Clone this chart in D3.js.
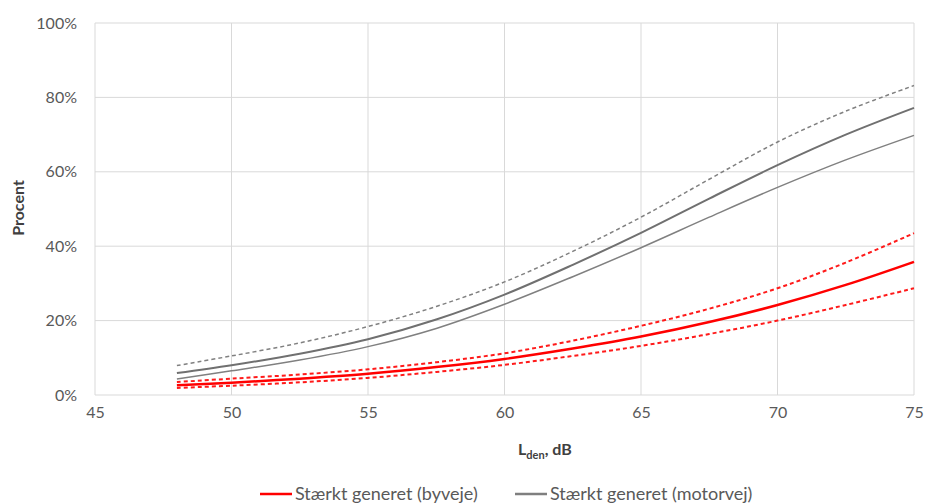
<!DOCTYPE html>
<html>
<head>
<meta charset="utf-8">
<script src="https://cdn.jsdelivr.net/npm/d3@7"></script>
<style>
  body { margin: 0; background: #fff; }
  text { font-family: Lato, "Open Sans", sans-serif; }
</style>
</head>
<body>
<div id="chart"></div>
<script>
// Chart data
var lden = [48, 50, 52.5, 55, 57.5, 60, 62.5, 65, 67.5, 70, 72.5, 75];

// Stærkt generet (motorvej): mid and bounds, in percent
var motorMid   = [5.9, 8.0, 11.1, 15.0, 20.3, 27.0, 35.0, 43.6, 52.8, 61.8, 70.0, 77.2];
var motorUpper = [7.9, 10.5, 14.0, 18.4, 23.8, 30.4, 38.6, 47.8, 58.0, 68.0, 76.3, 83.2];
var motorLower = [4.3, 6.5, 9.4, 13.0, 17.9, 24.4, 31.8, 39.6, 47.8, 55.8, 63.2, 69.8];

// Stærkt generet (byveje): mid and bounds, in percent
var byMid   = [2.6, 3.3, 4.4, 5.7, 7.5, 9.7, 12.5, 15.7, 19.6, 24.2, 29.6, 35.8];
var byUpper = [3.5, 4.4, 5.5, 6.9, 8.8, 11.2, 14.6, 18.6, 23.2, 28.7, 35.6, 43.5];
var byLower = [1.9, 2.5, 3.4, 4.6, 6.2, 8.1, 10.5, 13.2, 16.4, 20.0, 24.2, 28.7];

var xTicks = [45, 50, 55, 60, 65, 70, 75];
var yTicks = [0, 20, 40, 60, 80, 100];
var legendLabels = ["Stærkt generet (byveje)", "Stærkt generet (motorvej)"];

var svgWidth = 928;
var svgHeight = 504;
var margin = { top: 23, right: 14, bottom: 109, left: 95 };
var width = svgWidth - margin.left - margin.right;
var height = svgHeight - margin.top - margin.bottom;

var svg = d3.select("#chart").append("svg")
    .attr("width", svgWidth)
    .attr("height", svgHeight);

var chartGroup = svg.append("g")
    .attr("transform", `translate(${margin.left}, ${margin.top})`);

var xScale = d3.scaleLinear().domain([45, 75]).range([0, width]);
var yScale = d3.scaleLinear().domain([0, 100]).range([height, 0]);

// grid
chartGroup.append("g")
    .selectAll("line")
    .data(xTicks)
    .enter()
    .append("line")
    .attr("x1", d => xScale(d)).attr("x2", d => xScale(d))
    .attr("y1", 0).attr("y2", height)
    .attr("stroke", "#d9d9d9").attr("stroke-width", 1);

chartGroup.append("g")
    .selectAll("line")
    .data(yTicks)
    .enter()
    .append("line")
    .attr("x1", 0).attr("x2", width)
    .attr("y1", d => yScale(d)).attr("y2", d => yScale(d))
    .attr("stroke", "#d9d9d9").attr("stroke-width", 1);

// axes (labels only)
var bottomAxis = d3.axisBottom(xScale).tickValues(xTicks).tickSize(0).tickPadding(12);
var leftAxis = d3.axisLeft(yScale).tickValues(yTicks).tickSize(0).tickPadding(18)
    .tickFormat(d => d + "%");

var gx = chartGroup.append("g")
    .attr("transform", `translate(0, ${height})`)
    .call(bottomAxis);
var gy = chartGroup.append("g").call(leftAxis);

[gx, gy].forEach(function (g) {
    g.select(".domain").remove();
    g.selectAll("text")
      .attr("fill", "#595959")
      .style("font-size", "16px")
      .style("font-family", "Lato, 'Open Sans', sans-serif");
});

// lines
var line = d3.line()
    .x(d => xScale(d[0]))
    .y(d => yScale(d[1]))
    .curve(d3.curveCatmullRom);

function pairs(vals) {
    return lden.map((x, i) => [x, vals[i]]);
}

var series = [
    { vals: motorUpper, color: "#808080", w: 1.5, dash: "4,3" },
    { vals: motorLower, color: "#808080", w: 1.5, dash: null },
    { vals: motorMid,   color: "#707070", w: 2,   dash: null },
    { vals: byUpper,    color: "#ff1a1a", w: 2,   dash: "4,3" },
    { vals: byLower,    color: "#ff1a1a", w: 2,   dash: "4,3" },
    { vals: byMid,      color: "#ff0000", w: 2.5, dash: null }
];

chartGroup.selectAll("path.series")
    .data(series)
    .enter()
    .append("path")
    .attr("class", "series")
    .attr("fill", "none")
    .attr("stroke", d => d.color)
    .attr("stroke-width", d => d.w)
    .attr("stroke-dasharray", d => d.dash)
    .attr("d", d => line(pairs(d.vals)));

// axis titles
svg.append("text")
    .attr("transform", `translate(24, 208) rotate(-90)`)
    .attr("text-anchor", "middle")
    .attr("fill", "#404040")
    .style("font-size", "16px")
    .style("font-weight", "bold")
    .text("Procent");

var xTitle = svg.append("text")
    .attr("x", 518)
    .attr("y", 455)
    .attr("fill", "#404040")
    .style("font-size", "16px")
    .style("font-weight", "bold");
xTitle.append("tspan").text("L");
xTitle.append("tspan").attr("dy", 4).style("font-size", "11px").text("den");
xTitle.append("tspan").attr("dy", -4).text(", dB");

// legend
var legend = svg.append("g");
var legendItems = [
    { label: legendLabels[0], color: "#ff0000", x: 260 },
    { label: legendLabels[1], color: "#7f7f7f", x: 515 }
];
legendItems.forEach(function (d) {
    legend.append("line")
        .attr("x1", d.x).attr("x2", d.x + 32)
        .attr("y1", 494).attr("y2", 494)
        .attr("stroke", d.color).attr("stroke-width", 2.5);
    legend.append("text")
        .attr("x", d.x + 35).attr("y", 500)
        .attr("fill", "#595959")
        .style("font-size", "18px")
        .text(d.label);
});
</script>
</body>
</html>
